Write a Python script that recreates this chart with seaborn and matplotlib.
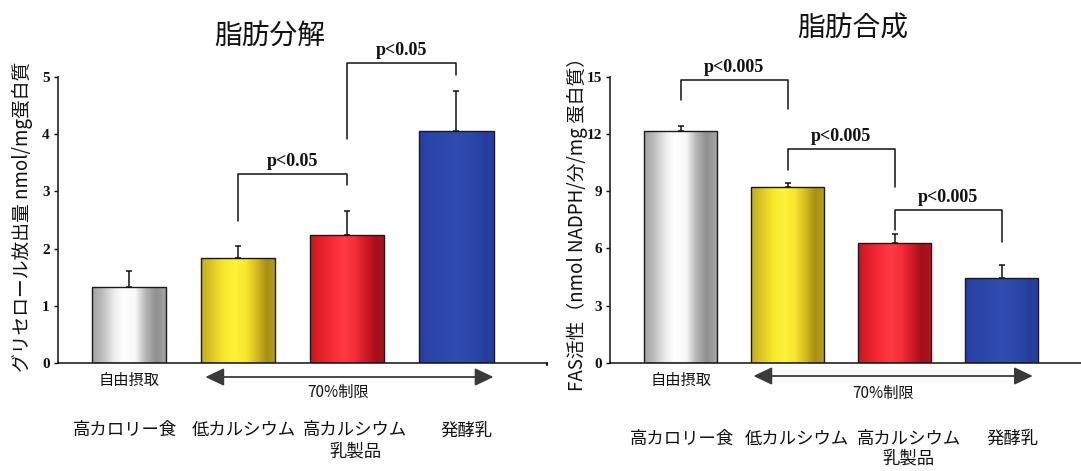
import numpy as np
import pandas as pd
import matplotlib
matplotlib.use("Agg")
import matplotlib.pyplot as plt
import seaborn as sns
from matplotlib.colors import LinearSegmentedColormap
from matplotlib.transforms import blended_transform_factory, ScaledTranslation

# ---- data ----
groups = ["高カロリー食", "低カルシウム", "高カルシウム\n乳製品", "発酵乳"]

lipolysis_mean = [1.33, 1.83, 2.23, 4.06]
lipolysis_err = [0.28, 0.22, 0.43, 0.70]

fas_mean = [12.13, 9.23, 6.27, 4.47]
fas_err = [0.27, 0.21, 0.47, 0.66]

# comparisons: (bar i, bar j, bracket top, left leg end, right leg end, label)
lipolysis_pairs = [
    (1, 2, 3.30, 2.48, 3.11, "p<0.05"),
    (2, 3, 5.24, 3.92, 5.03, "p<0.05"),
]
fas_pairs = [
    (0, 1, 14.85, 13.80, 13.28, "p<0.005"),
    (1, 2, 11.19, 10.10, 9.23, "p<0.005"),
    (2, 3, 8.01, 6.96, 6.35, "p<0.005"),
]

left_title = "脂肪分解"
right_title = "脂肪合成"
left_ylabel = "グリセロール放出量 nmol/mg蛋白質"
right_ylabel = "FAS活性（nmol NADPH/分/mg 蛋白質）"
free_label = "自由摂取"
restrict_label = "70%制限"

left_ticks = [0, 1, 2, 3, 4, 5]
right_ticks = [0, 3, 6, 9, 12, 15]

# ---- style ----
sns.set_theme(style="white")
plt.rcParams["font.family"] = ["Noto Sans CJK JP", "DejaVu Sans"]
plt.rcParams["axes.unicode_minus"] = False

JP = ["Noto Sans CJK JP", "DejaVu Sans"]
SERIF = "Liberation Serif"

base_colors = ["#d0d0d0", "#f2dc20", "#e8202e", "#2a46a8"]
# horizontal shading stops (position, colour) for each bar
gradients = [
    [(0.0, "#a2a2a2"), (0.12, "#b8b8b8"), (0.3, "#eeeeee"), (0.42, "#ffffff"),
     (0.58, "#f8f8f8"), (0.72, "#b4b4b4"), (0.86, "#8e8e8e"), (1.0, "#a6a6a6")],
    [(0.0, "#c4aa1e"), (0.12, "#d8c222"), (0.3, "#f8e82c"), (0.45, "#fff238"),
     (0.6, "#f8e62e"), (0.75, "#d4ba20"), (0.88, "#a88e16"), (1.0, "#b89e1a")],
    [(0.0, "#c8141f"), (0.12, "#e01e2a"), (0.3, "#f82c38"), (0.45, "#ff3a44"),
     (0.6, "#f42e38"), (0.75, "#cc1a26"), (0.88, "#a4101c"), (1.0, "#b01420")],
    [(0.0, "#2840a2"), (0.3, "#2c48ac"), (0.5, "#304cb0"), (0.7, "#2c48aa"),
     (0.9, "#243c9c"), (1.0, "#2840a0")],
]

W, H, DPI = 1081, 471, 100
fig = plt.figure(figsize=(W / DPI, H / DPI), dpi=DPI)
fig.patch.set_facecolor("white")


def px_axes(x0, x1, y_base, y_top):
    return fig.add_axes([x0 / W, 1 - y_base / H, (x1 - x0) / W, (y_base - y_top) / H])


def draw_panel(ax, means, errs, pairs, ticks, ylim, xlim, ylabel, ylabel_xy,
               label_shift, label_pad, label_spacing, arrow_span, arrow_y,
               free_off, restrict_off):
    df = pd.DataFrame({"group": groups, "value": means})
    sns.barplot(data=df, x="group", y="value", hue="group", palette=base_colors,
                legend=False, errorbar=None, width=0.68, ax=ax,
                edgecolor="#1a1a1a", linewidth=1.0, zorder=2)

    # cylinder-like shading clipped to each bar
    grad = np.linspace(0, 1, 256).reshape(1, -1)
    for patch, stops in zip(ax.patches, gradients):
        x0, y0 = patch.get_x(), patch.get_y()
        w, h = patch.get_width(), patch.get_height()
        cmap = LinearSegmentedColormap.from_list("shade", stops)
        im = ax.imshow(grad, cmap=cmap, aspect="auto", extent=(x0, x0 + w, y0, y0 + h),
                       interpolation="bilinear", zorder=2.1)
        im.set_clip_path(patch)
        patch.set_facecolor("none")
        patch.set_zorder(2.2)

    xs = np.arange(len(means))
    ax.errorbar(xs, means, yerr=[np.zeros(len(errs)), errs], fmt="none",
                ecolor="#111111", elinewidth=1.1, capsize=2.2, capthick=1.1, zorder=1.5)

    for i, j, top, lend, rend, lab in pairs:
        ax.plot([i, i, j, j], [lend, top, top, rend], color="#111111", lw=1.1,
                clip_on=False, zorder=3)
        ax.annotate(lab, xy=((i + j) / 2, top), xytext=(0, 9), textcoords="offset points",
                    ha="center", va="center", fontsize=13, fontweight="bold",
                    family=SERIF, color="#111111", annotation_clip=False)

    ax.set_xlim(*xlim)
    ax.set_ylim(*ylim)
    ax.set_yticks(ticks)
    ax.set_yticklabels([str(t) for t in ticks], fontfamily=SERIF, fontweight="bold",
                       fontsize=11, color="#111111")
    ax.tick_params(axis="y", left=True, length=3, width=1, pad=3, color="#111111")
    ax.tick_params(axis="x", bottom=False, length=0, pad=label_pad)
    for spine in ["top", "right"]:
        ax.spines[spine].set_visible(False)
    for spine in ["left", "bottom"]:
        ax.spines[spine].set_color("#111111")
        ax.spines[spine].set_linewidth(1.1)
    ax.spines["left"].set_bounds(ticks[0], ticks[-1])
    ax.set_xlabel("")
    ax.set_ylabel(ylabel, fontsize=13.5, family=JP, color="#111111", va="center")
    ax.yaxis.set_label_coords(*ylabel_xy)

    for lbl, dx in zip(ax.get_xticklabels(), label_shift):
        lbl.set_fontsize(12.5)
        lbl.set_family(JP)
        lbl.set_color("#111111")
        lbl.set_linespacing(label_spacing)
        lbl.set_transform(lbl.get_transform() + ScaledTranslation(dx / DPI, 0, fig.dpi_scale_trans))

    trans = blended_transform_factory(ax.transData, ax.transAxes)
    ax.annotate("", xy=(arrow_span[1], arrow_y), xytext=(arrow_span[0], arrow_y),
                xycoords=trans, textcoords=trans, annotation_clip=False,
                arrowprops=dict(arrowstyle="<|-|>,head_length=0.95,head_width=0.45",
                                color="#3a3a3a", lw=1.3, shrinkA=0, shrinkB=0))
    ax.annotate(free_label, xy=(0, 0), xytext=(0, free_off), textcoords="offset points",
                ha="center", va="center", fontsize=11, family=JP, color="#111111",
                annotation_clip=False)
    ax.annotate(restrict_label, xy=(restrict_off[0], 0), xytext=(0, restrict_off[1]),
                textcoords="offset points", ha="center", va="center", fontsize=11,
                family=JP, color="#111111", annotation_clip=False)


# left panel: 脂肪分解
axL = px_axes(58, 547, 363, 363 - 5.6 * 57.2)
draw_panel(axL, lipolysis_mean, lipolysis_err, lipolysis_pairs, left_ticks,
           ylim=(0, 5.6), xlim=(-0.65, 3.83), ylabel=left_ylabel,
           ylabel_xy=(-0.0736, 0.455), label_shift=[-4, 6, 8, 10], label_pad=42,
           label_spacing=1.25, arrow_span=(0.70, 3.34), arrow_y=-14 / (5.6 * 57.2),
           free_off=-12.5, restrict_off=(1.92, -21))
# small end tick on the left baseline
axL.plot([1.0, 1.0], [0, -0.006], transform=axL.transAxes, color="#111111",
         lw=1.5, clip_on=False)

# right panel: 脂肪合成
axR = px_axes(610, 1081, 363, 363 - 16.5 * 19.09)
draw_panel(axR, fas_mean, fas_err, fas_pairs, right_ticks,
           ylim=(0, 16.5), xlim=(-0.66, 3.74), ylabel=right_ylabel,
           ylabel_xy=(-0.070, 0.455), label_shift=[1.5, 9, 14, 11], label_pad=48,
           label_spacing=1.1, arrow_span=(0.68, 3.29), arrow_y=-13 / (16.5 * 19.09),
           free_off=-12.5, restrict_off=(1.89, -22))

fig.text(270 / W, 1 - 36 / H, left_title, ha="center", va="center", fontsize=20,
         family=JP, color="#111111")
fig.text(853 / W, 1 - 29 / H, right_title, ha="center", va="center", fontsize=20,
         family=JP, color="#111111")

fig.savefig("out.png", dpi=DPI, facecolor="white")
